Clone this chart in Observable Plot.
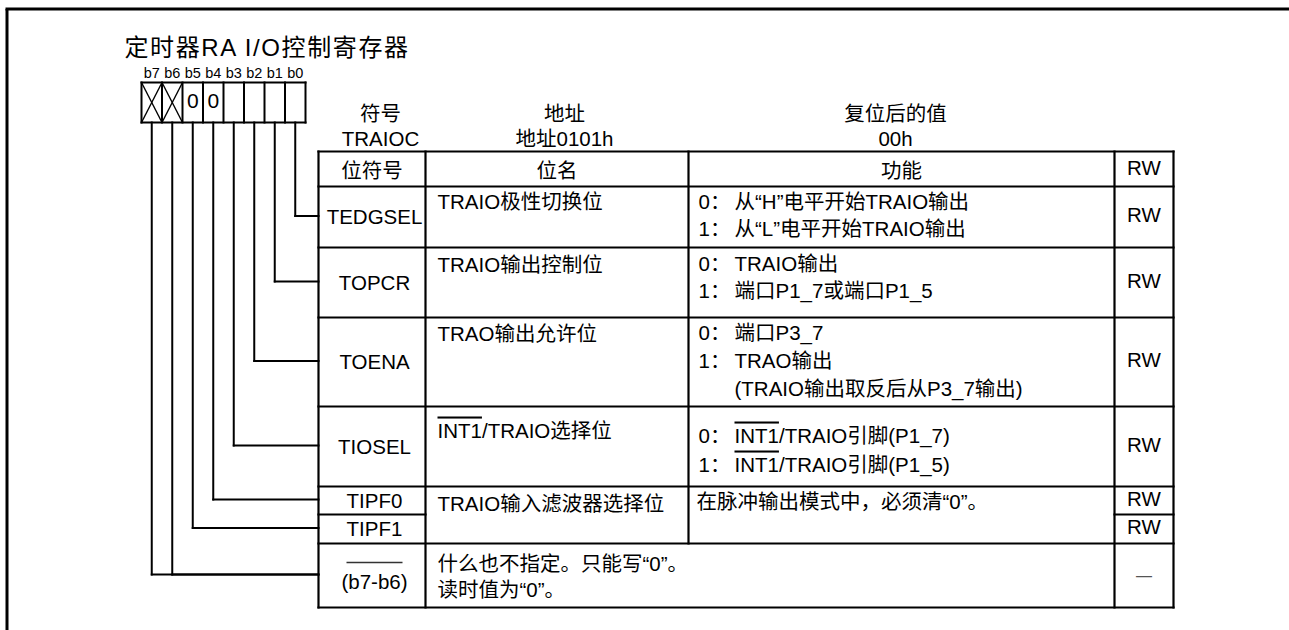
<!DOCTYPE html>
<html>
<head>
<meta charset="utf-8">
<script src="https://cdn.jsdelivr.net/npm/d3@7"></script>
<script src="https://cdn.jsdelivr.net/npm/@observablehq/plot@0.6"></script>
<style>
  html, body { margin: 0; padding: 0; background: #fff; }
  #chart svg { display: block; }
</style>
</head>
<body>
<div id="chart"></div>
<script>
// ---------------- CONTENT ----------------
const titleText = "定时器RA I/O控制寄存器";
const bitLabels = ["b7", "b6", "b5", "b4", "b3", "b2", "b1", "b0"];
const bitValues = ["x", "x", "0", "0", "", "", "", ""]; // "x" = crossed (reserved) bit
const headerTitles = ["符号", "地址", "复位后的值"];
const headerValues = ["TRAIOC", "地址0101h", "00h"];
const columnTitles = ["位符号", "位名", "功能", "RW"];
const rowSymbols = ["TEDGSEL", "TOPCR", "TOENA", "TIOSEL", "TIPF0", "TIPF1", "(b7-b6)"];
const rowBits = [["b0"], ["b1"], ["b2"], ["b3"], ["b4"], ["b5"], ["b7", "b6"]];
const rowNames = [
  ["TRAIO极性切换位"],
  ["TRAIO输出控制位"],
  ["TRAO输出允许位"],
  ["INT1/TRAIO选择位"],
  ["TRAIO输入滤波器选择位"],
  [],
  ["什么也不指定。只能写“0”。", "读时值为“0”。"]
];
// [prefix, text]; prefix null = continuation line (hanging indent), "" = no prefix
const rowFunctions = [
  [["0：", "从“H”电平开始TRAIO输出"], ["1：", "从“L”电平开始TRAIO输出"]],
  [["0：", "TRAIO输出"], ["1：", "端口P1_7或端口P1_5"]],
  [["0：", "端口P3_7"], ["1：", "TRAO输出"], [null, "(TRAIO输出取反后从P3_7输出)"]],
  [["0：", "INT1/TRAIO引脚(P1_7)"], ["1：", "INT1/TRAIO引脚(P1_5)"]],
  [["", "在脉冲输出模式中，必须清“0”。"]],
  [],
  []
];
const rowAccess = ["RW", "RW", "RW", "RW", "RW", "RW", "—"];
const overlined = ["INT1"];

// ---------------- LAYOUT ----------------
const W = 1289, H = 630;
const FONT = '"Liberation Sans", Arial, "Noto Sans CJK SC", sans-serif';
const FS = 20.5;
const frame = {x: 6.5, y: 8.5};
const titlePos = {x: 124, y: 55, size: 24, spacing: 1.6};
const bitBox = {x0: 141, x1: 305, y0: 82, y1: 122, labelY: 77, valueY: 107};
const headerPos = {x: [380, 564, 895], y1: 120, y2: 145};
const colX = [318, 425, 688, 1114, 1173];
const rowEdges = [151, 186, 247, 317, 406, 486, 514, 543, 607];
const col2Bottom = 543;                          // divider between 位名 and 功能 stops here
const partialBottom = {4: [[0, 1], [3, 4]]};    // TIPF0 / TIPF1 split only in these columns
const nameX = 437, funcX = 698, funcTextX = 734, funcPlainX = 696, symX = 374;
const nameOffsets = [22, 24, 23, 31, 24, 0, 27];
const funcOffsets = [22, 23, 22, 36, 22, 0, 0];
const lineSteps   = [27, 27, 28, 29, 27, 27, 26];

// ---------------- DERIVED MARK DATA ----------------
const cw = (bitBox.x1 - bitBox.x0) / bitLabels.length;
const bitCenter = i => bitBox.x0 + cw * (i + 0.5);
const L = colX[0], R = colX[colX.length - 1];
const rows = rowSymbols.map((s, i) => {
  const top = rowEdges[i + 1], bottom = rowEdges[i + 2];
  return {i, top, bottom, mid: (top + bottom) / 2};
});

// table grid
const tableLines = [];
tableLines.push({x1: L, y1: rowEdges[0], x2: R, y2: rowEdges[0]});
tableLines.push({x1: L, y1: rowEdges[1], x2: R, y2: rowEdges[1]});
rows.forEach(r => {
  const spans = partialBottom[r.i] || [[0, colX.length - 1]];
  spans.forEach(([a, b]) => tableLines.push({x1: colX[a], y1: r.bottom, x2: colX[b], y2: r.bottom}));
});
colX.forEach((x, k) => tableLines.push({
  x1: x, y1: rowEdges[0], x2: x, y2: k === 2 ? col2Bottom : rowEdges[rowEdges.length - 1]
}));

// bit box
const boxLines = [
  {x1: bitBox.x0, y1: bitBox.y0, x2: bitBox.x1, y2: bitBox.y0},
  {x1: bitBox.x0, y1: bitBox.y1, x2: bitBox.x1, y2: bitBox.y1}
];
for (let k = 0; k <= bitLabels.length; k++) {
  const x = bitBox.x0 + cw * k;
  boxLines.push({x1: x, y1: bitBox.y0, x2: x, y2: bitBox.y1});
}
const crossLines = [];
bitValues.forEach((v, i) => {
  if (v === "x") {
    const a = bitBox.x0 + cw * i, b = a + cw;
    crossLines.push({x1: a, y1: bitBox.y0, x2: b, y2: bitBox.y1});
    crossLines.push({x1: b, y1: bitBox.y0, x2: a, y2: bitBox.y1});
  }
});

// leader lines from bits to rows
const leaders = [];
rows.forEach(r => {
  const cy = r.mid - 1;
  rowBits[r.i].forEach(b => {
    const x = bitCenter(bitLabels.indexOf(b));
    leaders.push({x1: x, y1: bitBox.y1, x2: x, y2: cy});
    leaders.push({x1: x, y1: cy, x2: L, y2: cy});
  });
});

// texts
const bitLabelText = bitLabels.map((t, i) => ({x: bitCenter(i), y: bitBox.labelY, t}));
const bitValueText = bitValues.map((t, i) => ({x: bitCenter(i), y: bitBox.valueY, t}))
  .filter(d => d.t !== "" && d.t !== "x");
const headerText = [
  ...headerTitles.map((t, i) => ({x: headerPos.x[i], y: headerPos.y1, t})),
  ...headerValues.map((t, i) => ({x: headerPos.x[i], y: headerPos.y2, t}))
];
const colTitleText = columnTitles.map((t, i) => ({
  x: (colX[i] + colX[i + 1]) / 2, y: t === "RW" ? 174 : 177, t
}));
const reserved = rows.filter(r => rowSymbols[r.i].startsWith("("));
const symbolText = rows.map(r => ({
  x: symX, y: rowSymbols[r.i].startsWith("(") ? r.mid + 13 : r.mid + 7, t: rowSymbols[r.i]
}));
const nameText = [];
rows.forEach(r => rowNames[r.i].forEach((t, j) => nameText.push({
  x: nameX, y: r.top + nameOffsets[r.i] + j * lineSteps[r.i], t
})));
const funcText = [];
rows.forEach(r => rowFunctions[r.i].forEach(([p, t], j) => {
  const y = r.top + funcOffsets[r.i] + j * lineSteps[r.i];
  if (p) funcText.push({x: funcX, y, t: p});
  funcText.push({x: p === "" ? funcPlainX : funcTextX, y, t});
}));
const accessText = rows.map(r => ({x: (colX[3] + colX[4]) / 2, y: r.mid + 5, t: rowAccess[r.i]}));
const accessMain = accessText.filter(d => d.t !== "—");
const accessDash = accessText.filter(d => d.t === "—");

const seg = {x1: "x1", y1: "y1", x2: "x2", y2: "y2", stroke: "black"};
const txt = (data, o = {}) => Plot.text(data, {
  x: "x", y: "y", text: "t", fill: "black", fontSize: FS, lineAnchor: "bottom", textAnchor: "start", ...o
});

const plot = Plot.plot({
  width: W, height: H, margin: 0,
  x: {type: "linear", domain: [0, W], range: [0, W], axis: null},
  y: {type: "linear", domain: [0, H], range: [0, H], axis: null},
  style: {fontFamily: FONT, background: "white", color: "black", overflow: "visible"},
  marks: [
    // outer frame
    Plot.link([{x1: frame.x - 1.5, y1: frame.y, x2: W, y2: frame.y}, {x1: frame.x, y1: frame.y, x2: frame.x, y2: H}],
      {...seg, strokeWidth: 3}),
    // title
    Plot.text([{x: titlePos.x, y: titlePos.y, t: titleText}], {
      x: "x", y: "y", text: "t", fontSize: titlePos.size, textAnchor: "start", lineAnchor: "bottom", fill: "black"
    }),
    // bit register
    txt(bitLabelText, {fontSize: 14.5, textAnchor: "middle"}),
    txt(bitValueText, {fontSize: 21, textAnchor: "middle"}),
    Plot.link(boxLines, {...seg, strokeWidth: 2, strokeLinecap: "square"}),
    Plot.link(crossLines, {...seg, strokeWidth: 1.4}),
    Plot.link(leaders, {...seg, strokeWidth: 2, strokeLinecap: "square"}),
    // header
    txt(headerText, {textAnchor: "middle"}),
    // table
    Plot.link(tableLines, {...seg, strokeWidth: 2.2, strokeLinecap: "square"}),
    txt(colTitleText, {textAnchor: "middle"}),
    txt(symbolText, {textAnchor: "middle"}),
    Plot.link(reserved, {x1: () => symX - 28, x2: () => symX + 28, y1: r => r.mid - 13, y2: r => r.mid - 13,
      stroke: "#333", strokeWidth: 1.6}),
    txt(nameText),
    txt(funcText),
    txt(accessMain, {textAnchor: "middle"}),
    txt(accessDash, {textAnchor: "middle", fontSize: 16, fill: "#555"})
  ]
});

document.getElementById("chart").appendChild(plot);

// post-processing: title letter-spacing and overlined signal names
d3.select(plot).selectAll("text").each(function () {
  const s = this.textContent;
  if (s === titleText) this.style.letterSpacing = titlePos.spacing + "px";
  for (const o of overlined) {
    if (s.startsWith(o) && this.childElementCount === 0) {
      this.textContent = "";
      const sel = d3.select(this);
      sel.append("tspan").style("text-decoration", "overline").text(o);
      sel.append("tspan").text(s.slice(o.length));
    }
  }
});
</script>
</body>
</html>
